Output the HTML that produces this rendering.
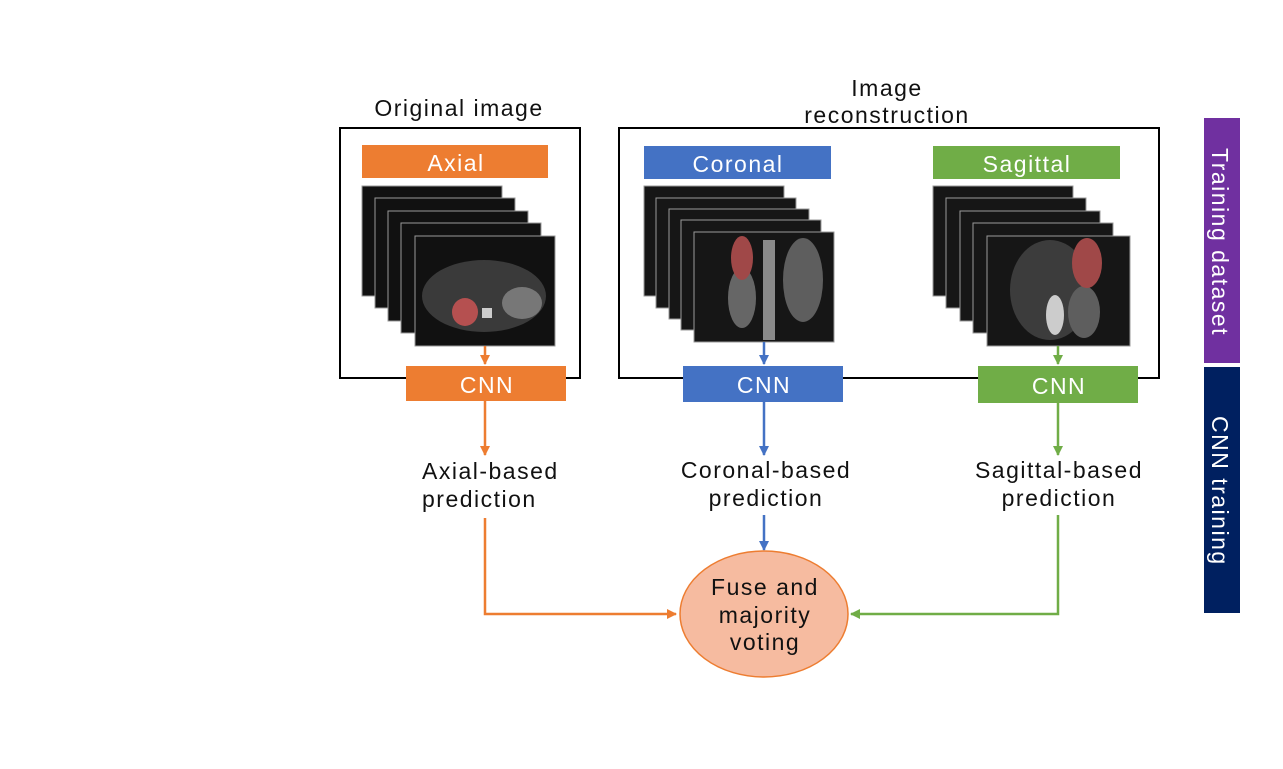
<!DOCTYPE html>
<html><head><meta charset="utf-8"><style>
html,body{margin:0;padding:0;background:#fff;}
svg{display:block;font-family:"Liberation Sans",sans-serif;}
svg text{letter-spacing:1.5px;}
</style></head><body>
<svg width="1283" height="769" viewBox="0 0 1283 769" xmlns="http://www.w3.org/2000/svg">
<defs>
<marker id="ao" markerWidth="10" markerHeight="10" refX="9" refY="5" orient="auto" markerUnits="userSpaceOnUse"><path d="M0,0 L10,5 L0,10 z" fill="#ED7D31"/></marker>
<marker id="ab" markerWidth="10" markerHeight="10" refX="9" refY="5" orient="auto" markerUnits="userSpaceOnUse"><path d="M0,0 L10,5 L0,10 z" fill="#4472C4"/></marker>
<marker id="ag" markerWidth="10" markerHeight="10" refX="9" refY="5" orient="auto" markerUnits="userSpaceOnUse"><path d="M0,0 L10,5 L0,10 z" fill="#70AD47"/></marker>
</defs>

<text x="459" y="116" font-size="23" text-anchor="middle" fill="#111">Original image</text>
<text x="887" y="96" font-size="23" text-anchor="middle" fill="#111">Image</text>
<text x="887" y="123" font-size="23" text-anchor="middle" fill="#111">reconstruction</text>

<rect x="340" y="128" width="240" height="250" fill="none" stroke="#000" stroke-width="2"/>
<rect x="619" y="128" width="540" height="250" fill="none" stroke="#000" stroke-width="2"/>

<rect x="362" y="145" width="186" height="33" fill="#ED7D31"/>
<text x="456" y="171" font-size="23" text-anchor="middle" fill="#fff">Axial</text>
<rect x="644" y="146" width="187" height="33" fill="#4472C4"/>
<text x="738" y="172" font-size="23" text-anchor="middle" fill="#fff">Coronal</text>
<rect x="933" y="146" width="187" height="33" fill="#70AD47"/>
<text x="1027" y="172" font-size="23" text-anchor="middle" fill="#fff">Sagittal</text>

<g stroke="#999" stroke-width="1" fill="#111">
<rect x="362" y="186" width="140" height="110"/>
<rect x="375" y="198" width="140" height="110"/>
<rect x="388" y="211" width="140" height="110"/>
<rect x="401" y="223" width="140" height="110"/>
<rect x="415" y="236" width="140" height="110"/>
</g>
<ellipse cx="484" cy="296" rx="62" ry="36" fill="#3a3a3a"/>
<ellipse cx="522" cy="303" rx="20" ry="16" fill="#777"/>
<ellipse cx="465" cy="312" rx="13" ry="14" fill="#b55050"/>
<rect x="482" y="308" width="10" height="10" fill="#ccc"/>

<g stroke="#999" stroke-width="1" fill="#161616">
<rect x="644" y="186" width="140" height="110"/>
<rect x="656" y="198" width="140" height="110"/>
<rect x="669" y="209" width="140" height="110"/>
<rect x="681" y="220" width="140" height="110"/>
<rect x="694" y="232" width="140" height="110"/>
</g>
<ellipse cx="742" cy="298" rx="14" ry="30" fill="#666"/>
<ellipse cx="803" cy="280" rx="20" ry="42" fill="#5e5e5e"/>
<rect x="763" y="240" width="12" height="100" fill="#8a8a8a"/>
<ellipse cx="742" cy="258" rx="11" ry="22" fill="#a04848"/>

<g stroke="#999" stroke-width="1" fill="#161616">
<rect x="933" y="186" width="140" height="110"/>
<rect x="946" y="198" width="140" height="110"/>
<rect x="960" y="211" width="140" height="110"/>
<rect x="973" y="223" width="140" height="110"/>
<rect x="987" y="236" width="143" height="110"/>
</g>
<ellipse cx="1050" cy="290" rx="40" ry="50" fill="#3c3c3c"/>
<ellipse cx="1084" cy="312" rx="16" ry="26" fill="#5e5e5e"/>
<ellipse cx="1055" cy="315" rx="9" ry="20" fill="#ccc"/>
<ellipse cx="1087" cy="263" rx="15" ry="25" fill="#a04848"/>

<rect x="406" y="366" width="160" height="35" fill="#ED7D31"/>
<text x="487" y="393" font-size="23" text-anchor="middle" fill="#fff">CNN</text>
<rect x="683" y="366" width="160" height="36" fill="#4472C4"/>
<text x="764" y="393" font-size="23" text-anchor="middle" fill="#fff">CNN</text>
<rect x="978" y="366" width="160" height="37" fill="#70AD47"/>
<text x="1059" y="394" font-size="23" text-anchor="middle" fill="#fff">CNN</text>

<g stroke-width="2.5" fill="none">
<line x1="485" y1="346" x2="485" y2="364" stroke="#ED7D31" marker-end="url(#ao)"/>
<line x1="485" y1="401" x2="485" y2="455" stroke="#ED7D31" marker-end="url(#ao)"/>
<polyline points="485,518 485,614 676,614" stroke="#ED7D31" marker-end="url(#ao)"/>
<line x1="764" y1="342" x2="764" y2="364" stroke="#4472C4" marker-end="url(#ab)"/>
<line x1="764" y1="402" x2="764" y2="455" stroke="#4472C4" marker-end="url(#ab)"/>
<line x1="764" y1="515" x2="764" y2="550" stroke="#4472C4" marker-end="url(#ab)"/>
<line x1="1058" y1="346" x2="1058" y2="364" stroke="#70AD47" marker-end="url(#ag)"/>
<line x1="1058" y1="403" x2="1058" y2="455" stroke="#70AD47" marker-end="url(#ag)"/>
<polyline points="1058,515 1058,614 851,614" stroke="#70AD47" marker-end="url(#ag)"/>
</g>

<g font-size="23" fill="#111">
<text x="422" y="479">Axial-based</text>
<text x="422" y="507">prediction</text>
<text x="766" y="478" text-anchor="middle">Coronal-based</text>
<text x="766" y="506" text-anchor="middle">prediction</text>
<text x="1059" y="478" text-anchor="middle">Sagittal-based</text>
<text x="1059" y="506" text-anchor="middle">prediction</text>
</g>

<ellipse cx="764" cy="614" rx="84" ry="63" fill="#F6BBA0" stroke="#ED7D31" stroke-width="1.5"/>
<g font-size="23" text-anchor="middle" fill="#111">
<text x="765" y="595">Fuse and</text>
<text x="765" y="623">majority</text>
<text x="765" y="650">voting</text>
</g>

<rect x="1204" y="118" width="36" height="245" fill="#7030A0"/>
<rect x="1204" y="367" width="36" height="246" fill="#002060"/>
<text transform="translate(1212,148) rotate(90)" font-size="23" fill="#fff">Training dataset</text>
<text transform="translate(1212,416) rotate(90)" font-size="23" fill="#fff">CNN training</text>
</svg>
</body></html>
